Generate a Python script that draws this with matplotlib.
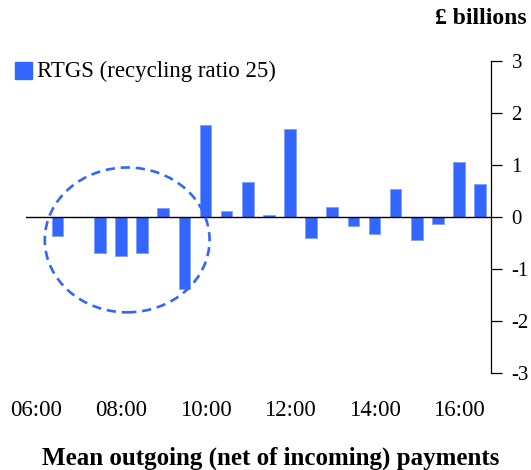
import matplotlib
matplotlib.use("Agg")
import matplotlib.pyplot as plt
from matplotlib.patches import Ellipse
import numpy as np

plt.rcParams['font.family'] = ['Liberation Serif', 'DejaVu Serif']
plt.rcParams['axes.unicode_minus'] = False

times = ["06:00", "06:30", "07:00", "07:30", "08:00", "08:30", "09:00", "09:30",
         "10:00", "10:30", "11:00", "11:30", "12:00", "12:30", "13:00", "13:30",
         "14:00", "14:30", "15:00", "15:30", "16:00", "16:30"]
values = [0.0, -0.37, 0.0, -0.70, -0.74, -0.70, 0.18, -1.38,
          1.76, 0.11, 0.68, 0.04, 1.68, -0.40, 0.19, -0.17,
          -0.32, 0.53, -0.44, -0.13, 1.06, 0.64]
xtick_labels = ["06:00", "08:00", "10:00", "12:00", "14:00", "16:00"]
yticks = [-3, -2, -1, 0, 1, 2, 3]
series_name = "RTGS (recycling ratio 25)"
blue = "#3366FF"

W, H = 531, 470
fig = plt.figure(figsize=(W / 100, H / 100), dpi=100)
ax = fig.add_axes([26 / W, 1 - 373.3 / H, (490.7 - 26) / W, (373.3 - 60.7) / H])

x = np.arange(len(times))
ax.bar(x, values, width=0.55, color=blue, edgecolor="#7f9fff", linewidth=0.6, zorder=3)
ax.axhline(0, color="black", linewidth=1.0, zorder=4)

ax.set_xlim(-0.5, len(times) - 0.5)
ax.set_ylim(-3, 3)

for s in ["top", "left", "bottom"]:
    ax.spines[s].set_visible(False)
ax.spines["right"].set_linewidth(0.9)
ax.yaxis.tick_right()
ax.set_yticks(yticks)
ax.set_yticklabels([str(v) for v in yticks])
ax.tick_params(axis="y", direction="out", length=8, width=0.9, pad=7, labelsize=15)

tick_pos = [times.index(t) for t in xtick_labels]
ax.set_xticks(tick_pos)
ax.set_xticklabels(xtick_labels)
ax.tick_params(axis="x", length=0, pad=19, labelsize=16.5)

# dashed ellipse highlighting the morning period
ell = Ellipse((4.29, -0.44), width=7.8, height=2.78, fill=False,
              edgecolor=blue, linestyle=(0, (3.5, 2.2)), linewidth=1.9,
              clip_on=False, zorder=5)
ax.add_patch(ell)

# legend
fig.patches.append(plt.Rectangle((15 / W, 1 - 79 / H), 17 / W, 17 / H,
                                 transform=fig.transFigure, color=blue, figure=fig))
fig.text(37 / W, 1 - 71 / H, series_name, fontsize=16.5, va="center", ha="left")

fig.text(527 / W, 1 - 19 / H, "£ billions", fontsize=17, fontweight="bold",
         va="center", ha="right")
fig.text(271 / W, 1 - 465 / H, "Mean outgoing (net of incoming) payments",
         fontsize=18, fontweight="bold", va="baseline", ha="center")

fig.savefig("out.png", dpi=100)
